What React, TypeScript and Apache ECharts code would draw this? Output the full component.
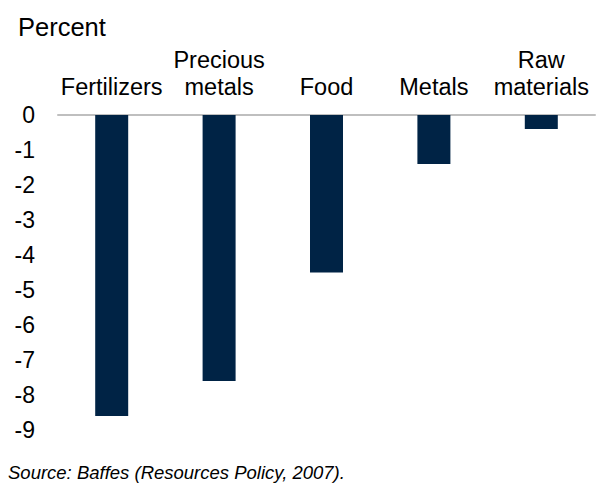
import React, { useEffect, useRef } from "react";
import * as echarts from "echarts";

const categories = ["Fertilizers", "Precious\nmetals", "Food", "Metals", "Raw\nmaterials"];
const values = [-8.6, -7.6, -4.5, -1.4, -0.4];
const yTicks = { min: -9, max: 0, interval: 1 };
const unitLabel = "Percent";
const sourceNote = "Source: Baffes (Resources Policy, 2007).";

const FONT = "'Liberation Sans', Arial, sans-serif";

export default function App() {
  const ref = useRef<HTMLDivElement>(null);
  useEffect(() => {
    if (!ref.current) return;
    const chart = echarts.init(ref.current, null, { renderer: "svg" });
    chart.setOption({
      animation: false,
      backgroundColor: "#ffffff",
      grid: { left: 58, right: 2, top: 115, bottom: 53, containLabel: false },
      xAxis: {
        type: "category",
        position: "top",
        data: categories,
        axisLine: { show: true, lineStyle: { color: "#BFBFBF", width: 2 } },
        axisTick: { show: false },
        axisLabel: {
          color: "#000",
          fontFamily: FONT,
          fontSize: 23.5,
          lineHeight: 27,
          margin: 15,
          interval: 0,
        },
      },
      yAxis: {
        type: "value",
        min: yTicks.min,
        max: yTicks.max,
        interval: yTicks.interval,
        axisLine: { show: false },
        axisTick: { show: false },
        splitLine: { show: false },
        axisLabel: {
          color: "#000",
          fontFamily: FONT,
          fontSize: 23,
          margin: 23,
        },
      },
      series: [
        {
          type: "bar",
          data: values,
          barWidth: 33,
          itemStyle: { color: "#002345" },
        },
      ],
      graphic: [
        {
          type: "text",
          x: 18,
          y: 27,
          style: {
            text: unitLabel,
            fill: "#000",
            font: `25.5px ${FONT}`,
            verticalAlign: "middle",
          },
        },
        {
          type: "text",
          x: 8,
          y: 472,
          style: {
            text: sourceNote,
            fill: "#000",
            font: `italic 18.5px ${FONT}`,
            verticalAlign: "middle",
          },
        },
      ],
    });
    return () => chart.dispose();
  }, []);
  return (
    <div
      ref={ref}
      style={{ position: "absolute", left: 0, top: 0, width: 597, height: 483 }}
    />
  );
}
